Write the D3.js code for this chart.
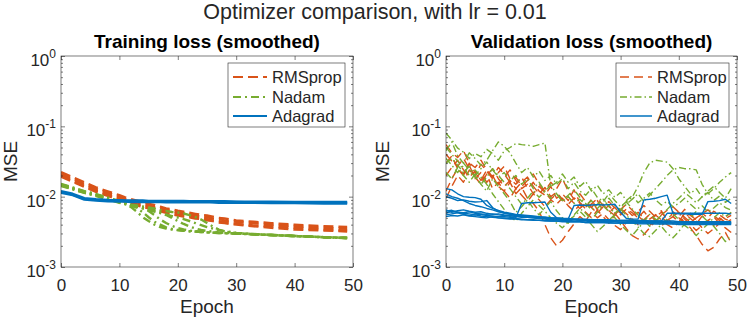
<!DOCTYPE html>
<html>
  <head>
    <meta charset="utf-8">
    <title>Optimizer comparison</title>
    <script src="https://d3js.org/d3.v7.min.js"></script>
    <style>
      body { margin: 0; background: #fff; }
      text { font-family: "Liberation Sans", Arial, Helvetica, sans-serif; fill: #262626; }
    </style>
  </head>
  <body>
    <div id="chart"></div>
    <script>
// ---- data ----
const optimizers = ["RMSprop", "Nadam", "Adagrad"];
const xTicks = [0, 10, 20, 30, 40, 50];
const yDecades = [1e-3, 1e-2, 1e-1, 1];
const yExponents = ["-3", "-2", "-1", "0"];

// training loss: epochs where the curves were read
const trainEpochs = [0, 2, 4, 6, 8, 10, 11, 12, 13, 14, 15, 16, 17, 18, 19, 20, 21, 22, 23, 24, 25, 26, 27, 28, 30, 33, 36, 40, 45, 49];

const trainRMSprop = [
  [0.0223, 0.0189, 0.0160, 0.0136, 0.0119, 0.0105, 0.0098, 0.0092, 0.0088, 0.0083, 0.0079, 0.0076, 0.0072, 0.0068, 0.0066, 0.0063, 0.0061, 0.0059, 0.0057, 0.0055, 0.0054, 0.0052, 0.0050, 0.0049, 0.0046, 0.0044, 0.0042, 0.0040, 0.0038, 0.0037],
  [0.0210, 0.0178, 0.0151, 0.0129, 0.0113, 0.0099, 0.0093, 0.0087, 0.0083, 0.0079, 0.0075, 0.0071, 0.0068, 0.0065, 0.0062, 0.0060, 0.0058, 0.0056, 0.0054, 0.0052, 0.0051, 0.0049, 0.0048, 0.0046, 0.0044, 0.0042, 0.0040, 0.0038, 0.0036, 0.0035],
  [0.0200, 0.0169, 0.0143, 0.0122, 0.0107, 0.0094, 0.0088, 0.0082, 0.0078, 0.0075, 0.0071, 0.0068, 0.0065, 0.0061, 0.0059, 0.0057, 0.0055, 0.0053, 0.0051, 0.0050, 0.0048, 0.0046, 0.0045, 0.0044, 0.0041, 0.0039, 0.0038, 0.0036, 0.0034, 0.0033],
  [0.0193, 0.0163, 0.0138, 0.0117, 0.0103, 0.0090, 0.0084, 0.0079, 0.0075, 0.0072, 0.0068, 0.0065, 0.0062, 0.0059, 0.0056, 0.0054, 0.0052, 0.0051, 0.0049, 0.0048, 0.0046, 0.0045, 0.0043, 0.0042, 0.0040, 0.0038, 0.0036, 0.0034, 0.0033, 0.0032]
];

const trainNadam = [
  [0.0147, 0.0131, 0.0117, 0.0106, 0.0094, 0.0084, 0.0080, 0.0071, 0.0061, 0.0051, 0.0045, 0.0040, 0.0037, 0.00353, 0.00341, 0.00334, 0.00327, 0.00323, 0.00319, 0.00314, 0.00311, 0.00308, 0.00306, 0.00304, 0.0030, 0.00292, 0.00285, 0.00276, 0.00266, 0.00258],
  [0.0152, 0.0135, 0.0120, 0.0109, 0.0097, 0.0087, 0.0082, 0.0075, 0.0069, 0.0060, 0.0051, 0.0044, 0.0040, 0.00365, 0.00347, 0.00336, 0.00327, 0.00322, 0.00318, 0.00314, 0.00311, 0.00308, 0.00305, 0.00303, 0.0030, 0.00293, 0.00285, 0.00275, 0.00265, 0.00258],
  [0.0144, 0.0128, 0.0114, 0.0104, 0.0092, 0.0083, 0.0079, 0.0076, 0.00725, 0.0069, 0.00625, 0.00548, 0.00473, 0.00422, 0.00383, 0.00358, 0.00341, 0.0033, 0.00323, 0.00316, 0.00311, 0.00307, 0.00304, 0.00302, 0.00298, 0.00291, 0.00284, 0.00275, 0.00266, 0.0026],
  [0.0146, 0.0130, 0.0116, 0.0105, 0.0094, 0.0084, 0.0081, 0.0076, 0.00725, 0.0069, 0.00657, 0.00625, 0.00595, 0.00548, 0.00497, 0.00451, 0.00409, 0.00377, 0.00353, 0.00336, 0.00325, 0.00318, 0.00311, 0.00306, 0.0030, 0.00292, 0.00285, 0.00276, 0.00265, 0.00258],
  [0.0149, 0.0133, 0.0119, 0.0108, 0.0096, 0.0086, 0.0082, 0.0077, 0.0075, 0.00725, 0.0070, 0.0068, 0.00646, 0.00625, 0.00605, 0.00595, 0.00576, 0.00548, 0.00514, 0.00473, 0.00422, 0.00377, 0.00341, 0.0032, 0.00304, 0.00293, 0.00285, 0.00276, 0.00265, 0.00258],
  [0.0142, 0.0127, 0.0113, 0.0102, 0.0091, 0.0082, 0.0078, 0.00736, 0.00713, 0.0068, 0.00646, 0.00615, 0.00586, 0.00558, 0.0053, 0.00506, 0.00481, 0.00451, 0.00422, 0.00395, 0.0037, 0.00353, 0.00336, 0.00323, 0.00306, 0.00294, 0.00286, 0.00276, 0.00266, 0.00259]
];

const trainAdagrad = [
  [0.0117, 0.0107, 0.0093, 0.0090, 0.0088, 0.0087, 0.0087, 0.0086, 0.0086, 0.0086, 0.0086, 0.0086, 0.0086, 0.0085, 0.0085, 0.0085, 0.0085, 0.0085, 0.0085, 0.0085, 0.0085, 0.0084, 0.0084, 0.0084, 0.0084, 0.0083, 0.0083, 0.0083, 0.0082, 0.0082],
  [0.0120, 0.0110, 0.0095, 0.0092, 0.0090, 0.0089, 0.0088, 0.0088, 0.0088, 0.0088, 0.0087, 0.0087, 0.0087, 0.0087, 0.0087, 0.0087, 0.0087, 0.0086, 0.0086, 0.0086, 0.0086, 0.0086, 0.0086, 0.0086, 0.0085, 0.0085, 0.0085, 0.0084, 0.0084, 0.0084],
  [0.0114, 0.0105, 0.0091, 0.0088, 0.0086, 0.0085, 0.0085, 0.0084, 0.0084, 0.0084, 0.0084, 0.0084, 0.0084, 0.0083, 0.0083, 0.0083, 0.0083, 0.0083, 0.0083, 0.0083, 0.0083, 0.0083, 0.0082, 0.0082, 0.0082, 0.0082, 0.0081, 0.0081, 0.0080, 0.0080]
];

// validation loss: one value per epoch 0..49
const valRMSprop = [
  [0.055, 0.042, 0.036, 0.045, 0.030, 0.026, 0.033, 0.024, 0.019, 0.022,
   0.027, 0.018, 0.015, 0.019, 0.013, 0.016, 0.012, 0.0105, 0.014, 0.0095,
   0.011, 0.0088, 0.0125, 0.0082, 0.0070, 0.0092, 0.0065, 0.0078, 0.0060, 0.0071,
   0.0055, 0.0067, 0.0059, 0.0050, 0.0062, 0.0048, 0.0055, 0.0063, 0.0046, 0.0052,
   0.0044, 0.0058, 0.0049, 0.0041, 0.0053, 0.0046, 0.0039, 0.0050, 0.0043, 0.0047],
  [0.030, 0.038, 0.025, 0.021, 0.028, 0.018, 0.022, 0.016, 0.020, 0.014,
   0.012, 0.016, 0.011, 0.0135, 0.0095, 0.0080, 0.0062, 0.0040, 0.0026, 0.0020,
   0.0024, 0.0032, 0.0041, 0.0052, 0.0045, 0.0061, 0.0050, 0.0058, 0.0047, 0.0039,
   0.0034, 0.0043, 0.0051, 0.0060, 0.0049, 0.0042, 0.0055, 0.0047, 0.0040, 0.0036,
   0.0043, 0.0050, 0.0058, 0.0045, 0.0036, 0.0030, 0.0035, 0.0042, 0.0049, 0.0054],
  [0.012, 0.018, 0.025, 0.020, 0.030, 0.022, 0.017, 0.024, 0.019, 0.026,
   0.021, 0.016, 0.019, 0.014, 0.017, 0.021, 0.015, 0.012, 0.016, 0.013,
   0.018, 0.012, 0.0092, 0.011, 0.0085, 0.0070, 0.0088, 0.0064, 0.0075, 0.0058,
   0.0046, 0.0035, 0.0028, 0.0025, 0.0029, 0.0036, 0.0045, 0.0052, 0.0043, 0.0061,
   0.0052, 0.0066, 0.0054, 0.0047, 0.0058, 0.0050, 0.0062, 0.0055, 0.0048, 0.0044],
  [0.0095, 0.014, 0.020, 0.016, 0.024, 0.019, 0.015, 0.021, 0.013, 0.016,
   0.012, 0.0095, 0.013, 0.0105, 0.0085, 0.011, 0.0090, 0.0072, 0.0090, 0.0078,
   0.0095, 0.0074, 0.0062, 0.0077, 0.0060, 0.0050, 0.0064, 0.0052, 0.0042, 0.0055,
   0.0068, 0.0057, 0.0048, 0.0040, 0.0047, 0.0056, 0.0045, 0.0038, 0.0046, 0.0053,
   0.0060, 0.0048, 0.0040, 0.0033, 0.0039, 0.0046, 0.0052, 0.0041, 0.0036, 0.0031],
  [0.040, 0.032, 0.027, 0.035, 0.025, 0.020, 0.029, 0.023, 0.018, 0.015,
   0.019, 0.024, 0.017, 0.013, 0.015, 0.011, 0.014, 0.0115, 0.0092, 0.011,
   0.0088, 0.0100, 0.0080, 0.0068, 0.0082, 0.0070, 0.0058, 0.0072, 0.0085, 0.0069,
   0.0058, 0.0066, 0.0054, 0.0061, 0.0075, 0.0062, 0.0051, 0.0060, 0.0049, 0.0041,
   0.0050, 0.0044, 0.0036, 0.0028, 0.0021, 0.0017, 0.0019, 0.0025, 0.0031, 0.0022],
  [0.020, 0.026, 0.033, 0.024, 0.019, 0.023, 0.017, 0.020, 0.025, 0.018,
   0.014, 0.017, 0.013, 0.016, 0.019, 0.014, 0.011, 0.0135, 0.010, 0.0115,
   0.0092, 0.0078, 0.0096, 0.0081, 0.0067, 0.0079, 0.0094, 0.0075, 0.0063, 0.0054,
   0.0066, 0.0078, 0.0064, 0.0053, 0.0045, 0.0039, 0.0046, 0.0055, 0.0064, 0.0072,
   0.0060, 0.0051, 0.0043, 0.0050, 0.0057, 0.0065, 0.0054, 0.0046, 0.0052, 0.0059]
];

const valNadam = [
  [0.080, 0.064, 0.049, 0.043, 0.035, 0.041, 0.037, 0.047, 0.041, 0.033,
   0.045, 0.050, 0.057, 0.055, 0.054, 0.052, 0.055, 0.058, 0.014, 0.016,
   0.021, 0.016, 0.019, 0.014, 0.0165, 0.012, 0.0145, 0.011, 0.0125, 0.0098,
   0.0115, 0.0088, 0.0104, 0.0082, 0.0095, 0.0113, 0.0090, 0.0076, 0.0086, 0.0072,
   0.0080, 0.0095, 0.0078, 0.0066, 0.0074, 0.0061, 0.0069, 0.0082, 0.0070, 0.0064],
  [0.045, 0.060, 0.038, 0.030, 0.042, 0.035, 0.028, 0.033, 0.045, 0.060,
   0.052, 0.042, 0.030, 0.022, 0.026, 0.019, 0.023, 0.017, 0.020, 0.015,
   0.018, 0.013, 0.016, 0.012, 0.0105, 0.013, 0.0098, 0.0085, 0.011, 0.0088,
   0.0072, 0.0085, 0.0098, 0.014, 0.022, 0.030, 0.033, 0.032, 0.031, 0.025,
   0.018, 0.014, 0.011, 0.013, 0.0098, 0.0115, 0.0088, 0.0102, 0.0083, 0.0095],
  [0.030, 0.035, 0.028, 0.022, 0.027, 0.020, 0.025, 0.031, 0.024, 0.019,
   0.022, 0.017, 0.020, 0.015, 0.018, 0.013, 0.016, 0.012, 0.0095, 0.011,
   0.0085, 0.0100, 0.0080, 0.0092, 0.0075, 0.0088, 0.0068, 0.0082, 0.0095, 0.0075,
   0.0064, 0.0078, 0.0092, 0.0110, 0.0085, 0.0105, 0.0130, 0.0160, 0.0200, 0.024,
   0.026, 0.025, 0.025, 0.024, 0.0150, 0.0110, 0.0130, 0.0160, 0.0190, 0.022],
  [0.022, 0.018, 0.026, 0.020, 0.016, 0.021, 0.015, 0.012, 0.018, 0.014,
   0.011, 0.0085, 0.0060, 0.0072, 0.0090, 0.0068, 0.0055, 0.0070, 0.0085, 0.0063,
   0.0050, 0.0042, 0.0055, 0.0068, 0.0058, 0.0047, 0.0060, 0.0075, 0.0062, 0.0050,
   0.0040, 0.0033, 0.0028, 0.0035, 0.0044, 0.0056, 0.0048, 0.0038, 0.0030, 0.0026,
   0.0032, 0.0041, 0.0050, 0.0062, 0.0053, 0.0044, 0.0038, 0.0030, 0.0023, 0.0028],
  [0.035, 0.028, 0.022, 0.030, 0.024, 0.019, 0.015, 0.019, 0.025, 0.020,
   0.016, 0.013, 0.010, 0.0078, 0.0095, 0.012, 0.0098, 0.0120, 0.0145, 0.0110,
   0.0088, 0.0105, 0.0125, 0.0098, 0.0080, 0.0065, 0.0078, 0.0092, 0.0072, 0.0058,
   0.0070, 0.0084, 0.0067, 0.0055, 0.0046, 0.0038, 0.0045, 0.0054, 0.0066, 0.0080,
   0.0095, 0.0115, 0.0098, 0.0082, 0.0100, 0.0120, 0.0140, 0.0115, 0.0095, 0.0130],
  [0.050, 0.040, 0.032, 0.026, 0.020, 0.024, 0.019, 0.015, 0.011, 0.0085,
   0.0066, 0.0052, 0.0045, 0.0058, 0.0072, 0.0090, 0.0075, 0.0062, 0.0050, 0.0042,
   0.0036, 0.0044, 0.0053, 0.0062, 0.0051, 0.0040, 0.0032, 0.0038, 0.0046, 0.0056,
   0.0066, 0.0054, 0.0045, 0.0037, 0.0030, 0.0027, 0.0033, 0.0040, 0.0048, 0.0057,
   0.0047, 0.0039, 0.0034, 0.0028, 0.0034, 0.0041, 0.0050, 0.0059, 0.0052, 0.0060]
];

const valAdagrad = [
  [0.0058, 0.0062, 0.0060, 0.0058, 0.0057, 0.0055, 0.0056, 0.0054, 0.0053, 0.0052,
   0.0052, 0.0051, 0.0050, 0.0080, 0.0082, 0.0082, 0.0083, 0.0084, 0.0060, 0.0050,
   0.0049, 0.0048, 0.0075, 0.0076, 0.0075, 0.0076, 0.0077, 0.0076, 0.0077, 0.0078,
   0.0060, 0.0049, 0.0048, 0.0048, 0.0090, 0.0092, 0.0095, 0.0100, 0.0105, 0.0058,
   0.0057, 0.0057, 0.0056, 0.0056, 0.0056, 0.0085, 0.0086, 0.0088, 0.0092, 0.0080],
  [0.0130, 0.0125, 0.0110, 0.0100, 0.0098, 0.0097, 0.0092, 0.0075, 0.0068, 0.0064,
   0.0060, 0.0058, 0.0056, 0.0055, 0.0054, 0.0053, 0.0052, 0.0051, 0.0050, 0.0049,
   0.0049, 0.0048, 0.0048, 0.0047, 0.0047, 0.0047, 0.0046, 0.0046, 0.0046, 0.0045,
   0.0045, 0.0045, 0.0045, 0.0044, 0.0044, 0.0044, 0.0044, 0.0044, 0.0043, 0.0043,
   0.0043, 0.0043, 0.0043, 0.0043, 0.0042, 0.0042, 0.0042, 0.0042, 0.0042, 0.0042],
  [0.0110, 0.0100, 0.0095, 0.0088, 0.0080, 0.0075, 0.0072, 0.0068, 0.0065, 0.0061,
   0.0059, 0.0057, 0.0055, 0.0054, 0.0053, 0.0052, 0.0051, 0.0051, 0.0050, 0.0050,
   0.0049, 0.0049, 0.0048, 0.0048, 0.0048, 0.0047, 0.0047, 0.0047, 0.0046, 0.0046,
   0.0046, 0.0046, 0.0046, 0.0045, 0.0045, 0.0045, 0.0045, 0.0045, 0.0045, 0.0045,
   0.0044, 0.0044, 0.0044, 0.0044, 0.0044, 0.0044, 0.0044, 0.0044, 0.0044, 0.0044],
  [0.0062, 0.0064, 0.0060, 0.0059, 0.0061, 0.0058, 0.0057, 0.0056, 0.0057, 0.0055,
   0.0054, 0.0053, 0.0053, 0.0052, 0.0051, 0.0051, 0.0050, 0.0050, 0.0049, 0.0049,
   0.0048, 0.0048, 0.0048, 0.0048, 0.0047, 0.0047, 0.0047, 0.0047, 0.0047, 0.0046,
   0.0046, 0.0046, 0.0046, 0.0046, 0.0046, 0.0045, 0.0045, 0.0045, 0.0058, 0.0058,
   0.0058, 0.0058, 0.0058, 0.0058, 0.0058, 0.0058, 0.0058, 0.0058, 0.0058, 0.0057],
  [0.0055, 0.0057, 0.0059, 0.0056, 0.0054, 0.0055, 0.0053, 0.0052, 0.0051, 0.0050,
   0.0050, 0.0049, 0.0049, 0.0048, 0.0047, 0.0047, 0.0046, 0.0046, 0.0045, 0.0045,
   0.0045, 0.0044, 0.0044, 0.0044, 0.0043, 0.0043, 0.0043, 0.0043, 0.0042, 0.0042,
   0.0042, 0.0042, 0.0042, 0.0041, 0.0041, 0.0041, 0.0041, 0.0041, 0.0041, 0.0041,
   0.0040, 0.0040, 0.0040, 0.0040, 0.0040, 0.0040, 0.0040, 0.0040, 0.0040, 0.0040],
  [0.0065, 0.0060, 0.0063, 0.0065, 0.0062, 0.0060, 0.0061, 0.0058, 0.0056, 0.0057,
   0.0055, 0.0054, 0.0052, 0.0051, 0.0051, 0.0050, 0.0049, 0.0049, 0.0048, 0.0048,
   0.0047, 0.0047, 0.0047, 0.0046, 0.0046, 0.0046, 0.0046, 0.0045, 0.0045, 0.0045,
   0.0045, 0.0045, 0.0044, 0.0044, 0.0044, 0.0044, 0.0044, 0.0044, 0.0044, 0.0043,
   0.0043, 0.0043, 0.0043, 0.0043, 0.0043, 0.0043, 0.0043, 0.0043, 0.0043, 0.0043],
  [0.0052, 0.0054, 0.0053, 0.0055, 0.0053, 0.0052, 0.0051, 0.0050, 0.0052, 0.0050,
   0.0049, 0.0048, 0.0048, 0.0047, 0.0047, 0.0046, 0.0046, 0.0045, 0.0045, 0.0045,
   0.0044, 0.0044, 0.0044, 0.0044, 0.0043, 0.0043, 0.0043, 0.0043, 0.0043, 0.0042,
   0.0042, 0.0042, 0.0042, 0.0042, 0.0042, 0.0042, 0.0041, 0.0041, 0.0041, 0.0041,
   0.0041, 0.0041, 0.0041, 0.0041, 0.0041, 0.0041, 0.0041, 0.0041, 0.0041, 0.0041],
  [0.0100, 0.0095, 0.0088, 0.0090, 0.0086, 0.0084, 0.0085, 0.0088, 0.0070, 0.0062,
   0.0058, 0.0056, 0.0054, 0.0052, 0.0051, 0.0050, 0.0049, 0.0048, 0.0047, 0.0047,
   0.0046, 0.0046, 0.0045, 0.0045, 0.0045, 0.0044, 0.0044, 0.0044, 0.0044, 0.0044,
   0.0043, 0.0043, 0.0043, 0.0043, 0.0043, 0.0043, 0.0043, 0.0043, 0.0043, 0.0043,
   0.0042, 0.0042, 0.0042, 0.0042, 0.0042, 0.0042, 0.0042, 0.0042, 0.0042, 0.0042]
];

// ---- layout ----
const width = 747;
const height = 318;
const plotTop = 56;
const plotBottom = 267;
const colors = ["#D95319", "#77AC30", "#0072BD"];
const axisColor = "#262626";

const svg = d3.select("#chart").append("svg")
  .attr("width", width)
  .attr("height", height)
  .attr("viewBox", [0, 0, width, height]);

// main title
svg.append("text")
  .attr("x", 375)
  .attr("y", 19)
  .attr("text-anchor", "middle")
  .style("font-size", "21.5px")
  .text("Optimizer comparison, with lr = 0.01");

const panels = [
  {
    title: "Training loss (smoothed)",
    left: 61, right: 353,
    epochs: trainEpochs,
    runs: [trainRMSprop, trainNadam, trainAdagrad],
    lineWidth: 2.4,
    dash: ["10,5", "8,4,2,4", null],
    legend: { x0: 228, x1: 345, lineX0: 233, lineX1: 267, textX: 272, lw: 1.8 },
    yLabelX: 17
  },
  {
    title: "Validation loss (smoothed)",
    left: 446, right: 737,
    epochs: d3.range(50),
    runs: [valRMSprop, valNadam, valAdagrad],
    lineWidth: 1.4,
    dash: ["9,5", "7,3,1.5,3", null],
    legend: { x0: 616, x1: 729, lineX0: 620, lineX1: 652, textX: 657, lw: 1.5 },
    yLabelX: 389
  }
];

panels.forEach((p, pi) => drawPanel(p, pi));

function drawPanel(p, pi) {
  const x = d3.scaleLinear().domain([0, 50]).range([p.left, p.right]);
  const y = d3.scaleLog().domain([1e-3, 1]).range([plotBottom, plotTop]);

  // clip
  svg.append("clipPath").attr("id", "clip" + pi)
    .append("rect")
    .attr("x", p.left).attr("y", plotTop)
    .attr("width", p.right - p.left).attr("height", plotBottom - plotTop);

  // lines
  const lines = svg.append("g").attr("clip-path", `url(#clip${pi})`);
  p.runs.forEach((group, k) => {
    group.forEach(run => {
      lines.append("path")
        .datum(run)
        .attr("fill", "none")
        .attr("stroke", colors[k])
        .attr("stroke-width", p.lineWidth)
        .attr("stroke-dasharray", p.dash[k])
        .attr("stroke-linejoin", "round")
        .attr("d", d3.line().x((d, i) => x(p.epochs[i])).y(d => y(d)));
    });
  });

  // axes, ticks pointing inward
  const minor = y.ticks().filter(v => !yDecades.some(d => Math.abs(d - v) < 1e-12));

  const styleAxis = g => {
    g.select(".domain").remove();
    g.selectAll(".tick line").attr("stroke", axisColor).attr("stroke-width", 0.6);
  };

  svg.append("g")
    .attr("transform", `translate(0,${plotBottom})`)
    .call(d3.axisBottom(x).tickValues(xTicks).tickSizeInner(-4).tickSizeOuter(0).tickPadding(12))
    .call(styleAxis)
    .call(g => g.selectAll("text").style("font-size", "17px").attr("fill", axisColor));

  svg.append("g")
    .attr("transform", `translate(0,${plotTop})`)
    .call(d3.axisTop(x).tickValues(xTicks).tickSizeInner(-4).tickSizeOuter(0).tickFormat(""))
    .call(styleAxis);

  [[d3.axisLeft, p.left], [d3.axisRight, p.right]].forEach(([axisFn, pos]) => {
    svg.append("g")
      .attr("transform", `translate(${pos},0)`)
      .call(axisFn(y).tickValues(yDecades).tickSizeInner(-4).tickSizeOuter(0).tickFormat(""))
      .call(styleAxis);
    svg.append("g")
      .attr("transform", `translate(${pos},0)`)
      .call(axisFn(y).tickValues(minor).tickSizeInner(-2).tickSizeOuter(0).tickFormat(""))
      .call(styleAxis);
  });

  // box
  svg.append("rect")
    .attr("x", p.left).attr("y", plotTop)
    .attr("width", p.right - p.left).attr("height", plotBottom - plotTop)
    .attr("fill", "none")
    .attr("stroke", axisColor)
    .attr("stroke-width", 0.6);

  // y tick labels 10^k
  yDecades.forEach((v, i) => {
    const t = svg.append("text")
      .attr("x", p.left - 5)
      .attr("y", y(v) + 10)
      .attr("text-anchor", "end");
    t.append("tspan").style("font-size", "17px").text("10");
    t.append("tspan").attr("dy", -8).style("font-size", "12px").text(yExponents[i]);
  });

  // titles and labels
  svg.append("text")
    .attr("x", (p.left + p.right) / 2)
    .attr("y", 48)
    .attr("text-anchor", "middle")
    .style("font-size", "19px")
    .style("font-weight", "bold")
    .style("fill", "#000")
    .text(p.title);

  svg.append("text")
    .attr("x", (p.left + p.right) / 2)
    .attr("y", 313)
    .attr("text-anchor", "middle")
    .style("font-size", "19px")
    .text("Epoch");

  svg.append("text")
    .attr("transform", `translate(${p.yLabelX},${(plotTop + plotBottom) / 2}) rotate(-90)`)
    .attr("text-anchor", "middle")
    .style("font-size", "19px")
    .text("MSE");

  // legend
  const L = p.legend;
  const rowY = [77, 97, 116];
  svg.append("rect")
    .attr("x", L.x0).attr("y", 63)
    .attr("width", L.x1 - L.x0).attr("height", 64)
    .attr("fill", "#fff")
    .attr("stroke", axisColor)
    .attr("stroke-width", 0.6);
  optimizers.forEach((name, k) => {
    svg.append("line")
      .attr("x1", L.lineX0).attr("x2", L.lineX1)
      .attr("y1", rowY[k]).attr("y2", rowY[k])
      .attr("stroke", colors[k])
      .attr("stroke-width", L.lw)
      .attr("stroke-dasharray", p.dash[k]);
    svg.append("text")
      .attr("x", L.textX)
      .attr("y", rowY[k] + 6)
      .style("font-size", "16.5px")
      .text(name);
  });
}
    </script>
  </body>
</html>
